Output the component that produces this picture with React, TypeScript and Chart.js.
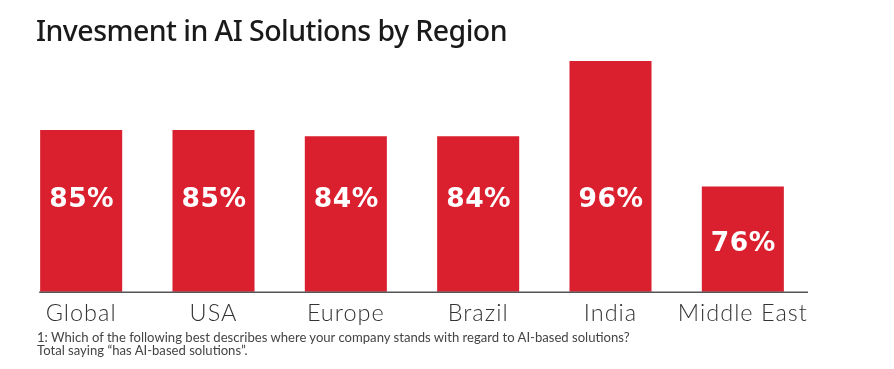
import React, { useEffect, useRef } from "react";
import { Chart, registerables } from "chart.js";

Chart.register(...registerables);

const TITLE = "Invesment in AI Solutions by Region";
const FOOTNOTE_1 = "1: Which of the following best describes where your company stands with regard to AI-based solutions?";
const FOOTNOTE_2 = "Total saying \u201chas AI-based solutions\u201d.";

const regions = ["Global", "USA", "Europe", "Brazil", "India", "Middle East"];
const shares = [85, 85, 84, 84, 96, 76];

const RED = "#DA1F2E";

const spacingPlugin = {
  id: "tickSpacing",
  beforeDraw(chart: any) {
    (chart.ctx as any).letterSpacing = "1px";
  },
  afterDraw(chart: any) {
    (chart.ctx as any).letterSpacing = "0px";
  },
};

const axisLinePlugin = {
  id: "axisLine",
  afterDatasetsDraw(chart: any) {
    const { ctx, chartArea } = chart;
    const meta = chart.getDatasetMeta(0);
    const first = meta.data[0] as any;
    if (!first) return;
    const left = first.x - first.width / 2 - 1;
    ctx.save();
    ctx.strokeStyle = "#555555";
    ctx.lineWidth = 1.5;
    ctx.beginPath();
    ctx.moveTo(left, chartArea.bottom + 0.5);
    ctx.lineTo(chartArea.right - 1, chartArea.bottom + 0.5);
    ctx.stroke();
    ctx.restore();
  },
};

const valueLabelPlugin = {
  id: "valueLabels",
  afterDatasetsDraw(chart: any) {
    const { ctx } = chart;
    const meta = chart.getDatasetMeta(0);
    const yScale = chart.scales.y;
    const fixedY = yScale.getPixelForValue(74.4);
    ctx.save();
    ctx.fillStyle = "#ffffff";
    ctx.font = "bold 26.5px 'DejaVu Sans'";
    (ctx as any).letterSpacing = "0.5px";
    ctx.textAlign = "center";
    ctx.textBaseline = "middle";
    meta.data.forEach((bar: any, i: number) => {
      const y = Math.max(fixedY, bar.y + 54) + 4;
      ctx.fillText(shares[i] + "%", bar.x + 0.5, y);
    });
    ctx.restore();
  },
};

export default function App() {
  const canvasRef = useRef<HTMLCanvasElement | null>(null);

  useEffect(() => {
    document.body.style.margin = "0";
    const canvas = canvasRef.current;
    if (!canvas) return;
    const chart = new Chart(canvas, {
      type: "bar",
      data: {
        labels: regions,
        datasets: [
          {
            data: shares,
            backgroundColor: RED,
            borderWidth: 0,
            categoryPercentage: 1,
            barPercentage: 0.62,
          },
        ],
      },
      options: {
        responsive: false,
        animation: false,
        layout: { padding: { left: 15, right: 85, top: 54, bottom: 33 } },
        plugins: {
          legend: { display: false },
          tooltip: { enabled: false },
          title: { display: false },
        },
        scales: {
          x: {
            grid: { display: false, drawTicks: false },
            border: { display: false },
            ticks: {
              color: "#333333",
              padding: 8,
              maxRotation: 0,
              font: { family: "Lato", size: 23.5, weight: "300" },
            },
          },
          y: {
            display: false,
            min: 59.2,
            max: 97.1,
          },
        },
      },
      plugins: [spacingPlugin, axisLinePlugin, valueLabelPlugin],
    });
    return () => chart.destroy();
  }, []);

  return (
    <div style={{ position: "relative", width: 894, height: 369, background: "#ffffff", overflow: "hidden" }}>
      <canvas ref={canvasRef} width={894} height={369} style={{ position: "absolute", left: 0, top: 0 }} />
      <div
        style={{
          position: "absolute",
          left: 36,
          top: 11,
          fontFamily: "'Noto Sans', sans-serif",
          fontWeight: 500,
          fontSize: 28.5,
          color: "#1a1a1a",
          whiteSpace: "nowrap",
          letterSpacing: "-0.55px",
        }}
      >
        {TITLE}
      </div>
      <div
        style={{
          position: "absolute",
          left: 37,
          top: 331,
          fontFamily: "Lato, sans-serif",
          fontSize: 13.1,
          lineHeight: "13px",
          color: "#444444",
          whiteSpace: "nowrap",
        }}
      >
        <div>{FOOTNOTE_1}</div>
        <div>{FOOTNOTE_2}</div>
      </div>
    </div>
  );
}
